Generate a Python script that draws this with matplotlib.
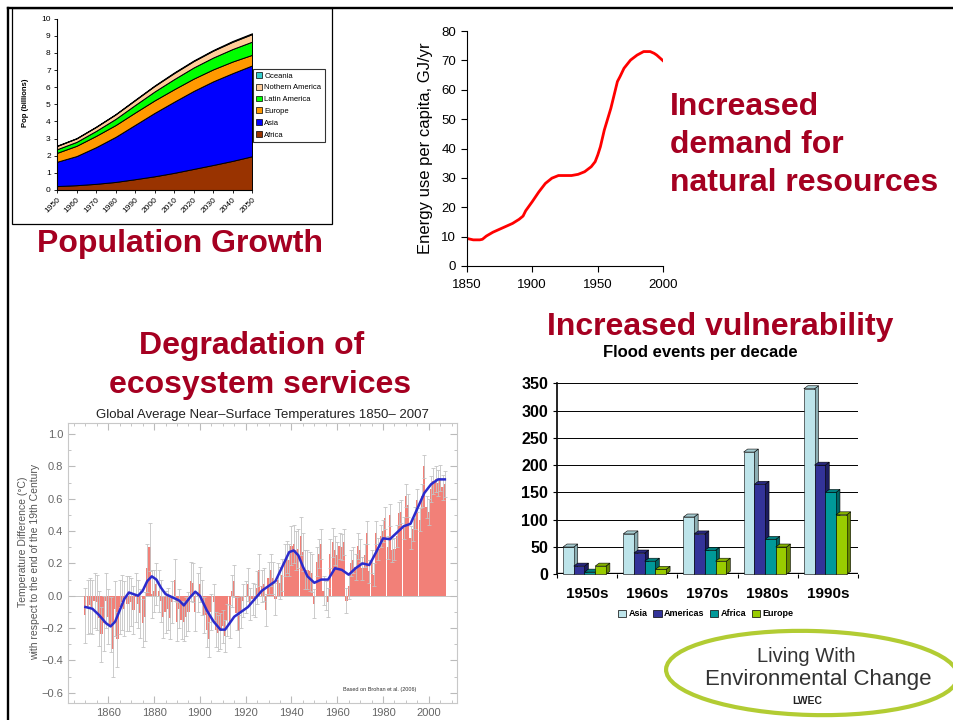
import matplotlib
matplotlib.use('Agg')
import matplotlib.pyplot as plt
from matplotlib.patches import Polygon, Rectangle, Ellipse, Patch
from matplotlib.lines import Line2D
import numpy as np

plt.rcParams['font.family'] = ['Liberation Sans', 'DejaVu Sans']

# ---------------- DATA ----------------
# Population (billions), stacked by region
pop_years = [1950, 1960, 1970, 1980, 1990, 2000, 2010, 2020, 2030, 2040, 2050]
pop_africa = [0.23, 0.28, 0.36, 0.47, 0.63, 0.80, 1.00, 1.23, 1.46, 1.70, 1.97]
pop_asia = [1.42, 1.70, 2.14, 2.63, 3.17, 3.70, 4.15, 4.55, 4.88, 5.12, 5.30]
pop_europe = [0.52, 0.60, 0.66, 0.69, 0.72, 0.73, 0.73, 0.72, 0.70, 0.68, 0.62]
pop_latam = [0.21, 0.23, 0.29, 0.36, 0.44, 0.52, 0.59, 0.65, 0.69, 0.73, 0.77]
pop_namerica = [0.19, 0.20, 0.23, 0.26, 0.28, 0.32, 0.35, 0.37, 0.40, 0.42, 0.44]
pop_oceania = [0.02, 0.02, 0.02, 0.02, 0.03, 0.03, 0.04, 0.04, 0.04, 0.05, 0.05]
pop_labels = ['Africa', 'Asia', 'Europe', 'Latin America', 'Nothern America', 'Oceania']
pop_colors = ['#993300', '#0000FF', '#FF9900', '#00FF00', '#FFCC99', '#33CCCC']

# Energy use per capita, GJ/yr
energy_years = [1850, 1855, 1860, 1862, 1865, 1870, 1875, 1880, 1885, 1890, 1893, 1895,
                1900, 1905, 1910, 1915, 1920, 1925, 1930, 1935, 1940, 1945, 1948, 1950,
                1952, 1955, 1960, 1965, 1967, 1970, 1975, 1980, 1985, 1990, 1993, 1995, 2000]
energy_vals = [9.4, 8.9, 8.9, 9.1, 10.2, 11.5, 12.5, 13.5, 14.5, 15.9, 17.0, 18.8,
               21.9, 25.2, 28.1, 29.9, 30.8, 30.8, 30.8, 31.2, 32.1, 33.8, 35.5, 37.8,
               40.6, 46.3, 53.7, 62.8, 64.5, 67.3, 70.1, 71.8, 73.0, 73.0, 72.4, 71.8, 69.8]

# Global temperature anomalies 1850-2007 (deg C)
temp_years = list(range(1850, 2008))
temp_anom = [
    -0.12, -0.07, -0.06, -0.07, -0.03, -0.04, -0.14, -0.24, -0.17, -0.03,
    -0.13, -0.18, -0.33, -0.08, -0.27, -0.07, -0.04, -0.08, -0.05, -0.05,
    -0.04, -0.09, -0.01, -0.05, -0.11, -0.17, -0.13, 0.17, 0.30, 0.01,
    0.03, 0.07, 0.03, -0.03, -0.13, -0.10, -0.08, -0.14, -0.04, 0.10,
    -0.16, -0.08, -0.15, -0.16, -0.13, -0.10, 0.09, 0.08, -0.10, 0.02,
    0.07, -0.01, -0.12, -0.21, -0.27, -0.10, -0.04, -0.21, -0.23, -0.22,
    -0.19, -0.25, -0.15, -0.16, 0.03, 0.09, -0.11, -0.22, -0.10, -0.03,
    -0.01, 0.07, -0.05, -0.02, -0.03, 0.05, 0.16, 0.06, 0.07, -0.09,
    0.11, 0.16, 0.11, -0.02, 0.10, 0.08, 0.13, 0.22, 0.24, 0.22,
    0.31, 0.32, 0.28, 0.29, 0.37, 0.27, 0.16, 0.16, 0.15, 0.14,
    -0.05, 0.21, 0.26, 0.32, 0.03, 0.00, -0.04, 0.26, 0.33, 0.28,
    0.25, 0.31, 0.30, 0.33, -0.03, 0.06, 0.20, 0.22, 0.18, 0.31,
    0.28, 0.17, 0.25, 0.39, 0.15, 0.21, 0.13, 0.39, 0.29, 0.37,
    0.40, 0.48, 0.30, 0.50, 0.28, 0.29, 0.37, 0.51, 0.52, 0.42,
    0.62, 0.56, 0.36, 0.41, 0.48, 0.59, 0.47, 0.62, 0.80, 0.55,
    0.52, 0.66, 0.71, 0.72, 0.70, 0.73, 0.67, 0.69]
# uncertainty half-width per decade (1850s ... 2000s)
temp_err_decade = [0.17, 0.17, 0.15, 0.13, 0.12, 0.11, 0.10, 0.10,
                   0.10, 0.12, 0.09, 0.08, 0.07, 0.07, 0.07, 0.08]
smooth_years = [1850, 1853, 1856, 1859, 1861, 1863, 1865, 1867, 1869, 1871, 1873, 1875,
                1877, 1879, 1881, 1883, 1885, 1888, 1891, 1893, 1896, 1898, 1900, 1903,
                1906, 1909, 1911, 1913, 1915, 1918, 1921, 1924, 1927, 1930, 1933, 1936,
                1939, 1941, 1943, 1945, 1947, 1950, 1953, 1956, 1959, 1962, 1965, 1968,
                1971, 1974, 1977, 1980, 1983, 1986, 1989, 1992, 1995, 1998, 2001, 2004, 2007]
smooth_vals = [-0.07, -0.08, -0.12, -0.17, -0.19, -0.16, -0.09, -0.02, 0.02, 0.01, 0.00,
               0.03, 0.09, 0.12, 0.10, 0.05, 0.01, -0.01, -0.03, -0.06, -0.005, 0.025,
               0.00, -0.09, -0.16, -0.21, -0.21, -0.17, -0.13, -0.10, -0.07, -0.02, 0.03,
               0.06, 0.09, 0.18, 0.27, 0.28, 0.25, 0.18, 0.12, 0.08, 0.10, 0.10, 0.17,
               0.16, 0.13, 0.17, 0.20, 0.19, 0.27, 0.355, 0.35, 0.39, 0.43, 0.445, 0.54,
               0.635, 0.69, 0.72, 0.72]

# Flood events per decade
flood_decades = ['1950s', '1960s', '1970s', '1980s', '1990s']
flood_asia = [50, 74, 105, 224, 340]
flood_americas = [15, 39, 74, 165, 200]
flood_africa = [4, 24, 44, 64, 150]
flood_europe = [15, 9, 24, 50, 109]
flood_labels = ['Asia', 'Americas', 'Africa', 'Europe']

# ---------------- FIGURE ----------------
W, H = 954, 720
fig = plt.figure(figsize=(W / 100, H / 100), dpi=100)
DARKRED = '#A50021'


def fbox(x0, y0, x1, y1):
    return [x0 / W, 1 - y1 / H, (x1 - x0) / W, (y1 - y0) / H]


def fx(x):
    return x / W


def fy(y):
    return 1 - y / H


# slide borders
fig.add_artist(Line2D([fx(7.7), fx(954)], [fy(7.8), fy(7.8)], color='black', lw=1.7))
fig.add_artist(Line2D([fx(7.7), fx(7.7)], [fy(7.8), fy(720)], color='black', lw=1.7))
fig.add_artist(Rectangle((fx(12), fy(224)), (332 - 12) / W, (224 - 8) / H,
                         fill=False, ec='black', lw=0.9, transform=fig.transFigure))

# ---------- Panel 1 : population ----------
ax1 = fig.add_axes(fbox(57, 18.7, 252, 190))
ax1.stackplot(pop_years, pop_africa, pop_asia, pop_europe, pop_latam, pop_namerica,
              pop_oceania, colors=pop_colors, edgecolor='black', linewidth=0.7)
ax1.set_xlim(1950, 2050)
ax1.set_ylim(0, 10)
ax1.spines['top'].set_visible(False)
ax1.spines['right'].set_visible(False)
for s in ['left', 'bottom']:
    ax1.spines[s].set_linewidth(0.8)
ax1.set_yticks(range(0, 11))
ax1.set_xticks(pop_years)
ax1.set_xticklabels([str(y) for y in pop_years], rotation=45, ha='right',
                    rotation_mode='anchor')
ax1.tick_params(labelsize=6, length=2.5, width=0.6, direction='out', pad=2)
fig.text(fx(26), fy(103), 'Pop (billions)', rotation=90, fontsize=5.5,
         fontweight='bold', ha='center', va='center')
h1 = [Patch(fc=c, ec='black', lw=0.5) for c in pop_colors][::-1]
leg1 = ax1.legend(h1, pop_labels[::-1], loc='upper left',
                  bbox_to_anchor=(fx(253), fy(69)), bbox_transform=fig.transFigure,
                  fontsize=5.5, frameon=True, fancybox=False, edgecolor='black',
                  handlelength=0.8, handleheight=0.8, handletextpad=0.3,
                  labelspacing=0.55, borderpad=0.4, borderaxespad=0)
leg1.get_frame().set_linewidth(0.8)

fig.text(fx(180), fy(244), 'Population Growth', fontsize=23, fontweight='bold',
         color=DARKRED, ha='center', va='center')

# ---------- Panel 2 : energy ----------
ax2 = fig.add_axes(fbox(466.7, 31, 663.3, 266))
ax2.plot(energy_years, energy_vals, color='#FF0000', lw=2)
ax2.set_xlim(1850, 2000)
ax2.set_ylim(0, 80)
ax2.set_xticks([1850, 1900, 1950, 2000])
ax2.set_yticks(range(0, 81, 10))
ax2.spines['top'].set_visible(False)
ax2.spines['right'].set_visible(False)
ax2.tick_params(labelsize=9.5, length=4, width=0.8, direction='out')
ax2.tick_params(axis='x', pad=5)
fig.text(fx(426), fy(148), 'Energy use per capita, GJ/yr', rotation=90, fontsize=12,
         ha='center', va='center')

for txt, yy in [('Increased', 107), ('demand for', 145), ('natural resources', 183)]:
    fig.text(fx(670), fy(yy), txt, fontsize=23, fontweight='bold', color=DARKRED,
             ha='left', va='center')

# ---------- Panel 3 : temperature ----------
fig.text(fx(252), fy(346), 'Degradation of', fontsize=23, fontweight='bold',
         color=DARKRED, ha='center', va='center')
fig.text(fx(260), fy(385), 'ecosystem services', fontsize=23, fontweight='bold',
         color=DARKRED, ha='center', va='center')

ax3 = fig.add_axes(fbox(68, 423, 457, 703))
temp_err = np.repeat(temp_err_decade, 10)[:len(temp_years)]
ax3.axhline(0, color='#BBBBBB', lw=0.6, zorder=1)
ax3.bar(temp_years, temp_anom, width=0.95, color='#F28078', edgecolor='none', zorder=2)
ax3.errorbar(temp_years, temp_anom, yerr=temp_err, fmt='none', ecolor='#C4C4C4',
             elinewidth=0.6, capsize=1.2, capthick=0.6, zorder=3)
ax3.plot(smooth_years, smooth_vals, color='#2B2BCC', lw=1.8, zorder=4)
ax3.set_xlim(1842.4, 2012.3)
ax3.set_ylim(-0.664, 1.069)
ax3.set_xticks(range(1860, 2001, 20))
ax3.set_xticks(range(1845, 2011, 5), minor=True)
ax3.set_yticks([-0.6, -0.4, -0.2, 0.0, 0.2, 0.4, 0.6, 0.8, 1.0])
ax3.set_yticks(np.arange(-0.6, 1.05, 0.1), minor=True)
ax3.set_yticklabels(['\u22120.6', '\u22120.4', '\u22120.2', '0.0', '0.2', '0.4', '0.6',
                     '0.8', '1.0'])
for s in ax3.spines.values():
    s.set_color('#C8C8C8')
    s.set_linewidth(0.8)
ax3.tick_params(which='both', direction='in', top=True, right=True, color='#BBBBBB',
                labelcolor='#666666', labelsize=8)
ax3.tick_params(which='major', length=5)
ax3.tick_params(which='minor', length=2.5)
fig.text(fx(262), fy(415), 'Global Average Near\u2013Surface Temperatures 1850\u2013 2007',
         fontsize=9.5, color='#222222', ha='center', va='center')
fig.text(fx(23), fy(542), 'Temperature Difference (\u00b0C)', rotation=90, fontsize=7.5,
         color='#555555', ha='center', va='center')
fig.text(fx(35), fy(562), 'with respect to the end of the 19th Century', rotation=90,
         fontsize=7.5, color='#555555', ha='center', va='center')
fig.text(fx(380), fy(690), 'Based on Brohan et al. (2006)', fontsize=4, color='#333333',
         ha='center', va='center')

# ---------- Panel 4 : floods ----------
fig.text(fx(720), fy(327), 'Increased vulnerability', fontsize=23, fontweight='bold',
         color=DARKRED, ha='center', va='center')
fig.text(fx(700), fy(352), 'Flood events per decade', fontsize=12, fontweight='bold',
         color='black', ha='center', va='center')

ax4 = fig.add_axes(fbox(557, 383.3, 858, 574.3))
ax4.set_xlim(0, 5)
ax4.set_ylim(0, 350)
for s in ['top', 'right', 'bottom']:
    ax4.spines[s].set_visible(False)
ax4.spines['left'].set_linewidth(1.2)
ax4.hlines(range(50, 351, 50), 0, 5, color='black', lw=0.7, zorder=1)
ax4.vlines(5, 0, 350, color='#999999', lw=0.6, zorder=1)
ax4.hlines(0, 0, 5, color='black', lw=2.4, zorder=1)
ax4.set_yticks(range(0, 351, 50))
ax4.set_xticks([0.5, 1.5, 2.5, 3.5, 4.5])
ax4.set_xticklabels(flood_decades)
ax4.set_xticks([0, 1, 2, 3, 4, 5], minor=True)
ax4.tick_params(axis='y', labelsize=11.5, length=3, width=0.8, direction='out')
ax4.tick_params(axis='x', which='major', labelsize=11, length=0, pad=9)
ax4.tick_params(axis='x', which='minor', length=3, width=0.8, direction='out')
for lab in ax4.get_xticklabels() + ax4.get_yticklabels():
    lab.set_fontweight('bold')

fronts = ['#BDE4EA', '#333399', '#009999', '#99CC00']
sides = ['#8CAEB3', '#1C1C60', '#006464', '#688A00']
tops = ['#A6CBD0', '#28287F', '#007F7F', '#86B300']
series = [flood_asia, flood_americas, flood_africa, flood_europe]
bw = 0.178
ddx = 4 / 60.2
ddy = 3 / 0.5457
for i in range(len(flood_decades)):
    for j, vals in enumerate(series):
        h = vals[i]
        x0 = i + 0.1 + j * bw
        ax4.add_patch(Polygon([(x0 + bw, 0), (x0 + bw + ddx, ddy), (x0 + bw + ddx, h + ddy),
                               (x0 + bw, h)], closed=True, fc=sides[j], ec='black',
                              lw=0.4, zorder=3, clip_on=False))
        ax4.add_patch(Polygon([(x0, h), (x0 + ddx, h + ddy), (x0 + bw + ddx, h + ddy),
                               (x0 + bw, h)], closed=True, fc=tops[j], ec='black',
                              lw=0.4, zorder=3, clip_on=False))
        ax4.add_patch(Rectangle((x0, 0), bw, h, fc=fronts[j], ec='black', lw=0.4,
                                zorder=3, clip_on=False))

h4 = [Patch(fc=c, ec='black', lw=0.5) for c in fronts]
fig.legend(h4, flood_labels, loc='center', bbox_to_anchor=(fx(706), fy(614)), ncol=4,
           frameon=False, prop={'size': 6.5, 'weight': 'bold'}, handlelength=0.9,
           handleheight=0.9, handletextpad=0.3, columnspacing=0.6)

# ---------- Logo ----------
fig.add_artist(Ellipse((fx(812), fy(673)), 292 / W, 84 / H, angle=-2,
                       transform=fig.transFigure, fill=False, ec='#B2CC33', lw=3))
fig.text(fx(806), fy(657), 'Living With', fontsize=14.5, color='#333333',
         ha='center', va='center')
fig.text(fx(818), fy(680), 'Environmental Change', fontsize=16, color='#333333',
         ha='center', va='center')
fig.text(fx(807), fy(701), 'LWEC', fontsize=7.5, fontweight='bold', color='#222222',
         ha='center', va='center')

fig.savefig('out.png', dpi=100)
